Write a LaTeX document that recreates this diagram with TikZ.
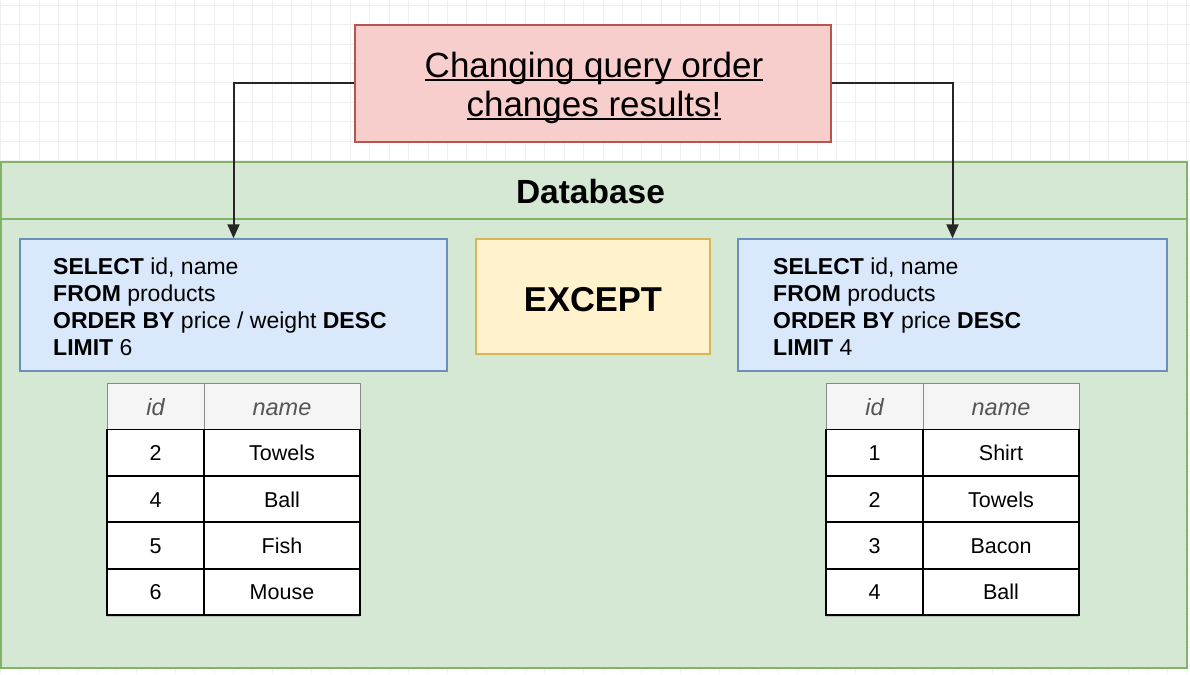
\documentclass[tikz,border=0pt]{standalone}
\usepackage{fontspec}
\setmainfont{Liberation Sans}
\usetikzlibrary{arrows.meta,shadows,calc}
\definecolor{gridc}{HTML}{EFEFEF}
\definecolor{dbfill}{HTML}{D5E8D4}
\definecolor{dbline}{HTML}{82B366}
\definecolor{redfill}{HTML}{F8CECC}
\definecolor{redline}{HTML}{B85450}
\definecolor{bluefill}{HTML}{DAE8FC}
\definecolor{blueline}{HTML}{6C8EBF}
\definecolor{yelfill}{HTML}{FFF2CC}
\definecolor{yelline}{HTML}{D6B656}
\definecolor{hdrfill}{HTML}{F5F5F5}
\definecolor{hdrline}{HTML}{8A8A8A}
\definecolor{hdrtext}{HTML}{555555}
\newcommand\myul[1]{\setbox0\hbox{#1}\rlap{\rule[-3pt]{\wd0}{1.6pt}}\box0}
\tikzset{
  dbbox/.style={draw=dbline, fill=dbfill, line width=1.5pt, inner sep=0pt},
  redbox/.style={draw=redline, fill=redfill, line width=1.5pt, inner sep=0pt},
  toptext/.style={anchor=base, inner sep=0pt, font=\fontsize{35}{40}\selectfont},
  qbox/.style={draw=blueline, fill=bluefill, line width=1.5pt, inner sep=0pt},
  ybox/.style={draw=yelline, fill=yelfill, line width=1.5pt, inner sep=0pt},
  bigbold/.style={anchor=base, inner sep=0pt, font=\bfseries\fontsize{34.5}{40}\selectfont},
  qline/.style={anchor=base west, inner sep=0pt, font=\fontsize{23}{27}\selectfont},
  arr/.style={draw=black!85, line width=2pt, -{Triangle[length=14pt,width=12pt]}},
  hcell/.style={draw=hdrline, fill=hdrfill, line width=1pt, inner sep=0pt,
    minimum height=46.4pt, text height=18pt, text depth=0pt,
    font=\itshape\fontsize{23.5}{26}\selectfont, text=hdrtext},
  bcell/.style={draw=black, fill=white, line width=1.8pt, inner sep=0pt,
    minimum height=46.4pt, text height=16pt, text depth=0pt,
    font=\fontsize{21.5}{24}\selectfont,
    drop shadow={shadow xshift=0pt, shadow yshift=-2pt, opacity=0.35}},
  idcol/.style={minimum width=97pt},
  namecol/.style={minimum width=156pt},
}
\begin{document}
\begin{tikzpicture}[x=1pt,y=-1pt]
\useasboundingbox (0,0) rectangle (1190,674);
% background grid
\foreach \i in {0,...,61} \draw[gridc, line width=0.8pt] ({\i*19.45},0) -- ({\i*19.45},674);
\foreach \j in {0,...,34} \draw[gridc, line width=0.8pt] (0,{5.05+\j*19.45}) -- (1190,{5.05+\j*19.45});

% database container
\node[dbbox, anchor=north west, minimum width=1186pt, minimum height=506pt] (db) at (0,161) {};
\draw[dbline, line width=1.5pt] ($(db.north west)+(0,58)$) -- ($(db.north east)+(0,58)$);
\node[bigbold, font=\bfseries\fontsize{33.5}{40}\selectfont] (dblabel) at (590.5,203) {Database};

% top note
\node[redbox, minimum width=476pt, minimum height=117pt] (top) at (593,83.5) {};
\node[toptext] (toptxt1) at (594,78) {\myul{Changing query order}};
\node[toptext] (toptxt2) at (594,117) {\myul{changes results!}};

% query boxes
\node[qbox, minimum width=427pt, minimum height=132pt] (q1) at (233.5,305) {};
\node[qbox, minimum width=429pt, minimum height=132pt] (q2) at (952.5,305) {};
\node[ybox, minimum width=234pt, minimum height=115pt] (exc) at (593,296.5) {};
\node[bigbold] (exctxt) at (593,311) {EXCEPT};

\node[qline] (q1a) at (53,274) {\textbf{SELECT} id, name};
\node[qline] (q1b) at (53,301) {\textbf{FROM} products};
\node[qline] (q1c) at (53,328) {\textbf{ORDER BY} price / weight \textbf{DESC}};
\node[qline] (q1d) at (53,355) {\textbf{LIMIT} 6};

\node[qline] (q2a) at (773,274) {\textbf{SELECT} id, name};
\node[qline] (q2b) at (773,301) {\textbf{FROM} products};
\node[qline] (q2c) at (773,328) {\textbf{ORDER BY} price \textbf{DESC}};
\node[qline] (q2d) at (773,355) {\textbf{LIMIT} 4};

% arrows
\draw[arr] (top.west) -| (q1.north);
\draw[arr] (top.east) -| (q2.north);

% left table
\node[hcell, idcol] (lh1) at (155.5,406.2) {id};
\node[hcell, namecol] (lh2) at (282,406.2) {name};
\foreach \r/\a/\b [count=\k] in {1/2/Towels,2/4/Ball,3/5/Fish,4/6/Mouse}{
  \node[bcell, idcol] (l\r a) at (155.5,{406.2+\k*46.4}) {\a};
  \node[bcell, namecol] (l\r b) at (282,{406.2+\k*46.4}) {\b};
}
% right table
\node[hcell, idcol] (rh1) at (874.5,406.2) {id};
\node[hcell, namecol] (rh2) at (1001,406.2) {name};
\foreach \r/\a/\b [count=\k] in {1/1/Shirt,2/2/Towels,3/3/Bacon,4/4/Ball}{
  \node[bcell, idcol] (r\r a) at (874.5,{406.2+\k*46.4}) {\a};
  \node[bcell, namecol] (r\r b) at (1001,{406.2+\k*46.4}) {\b};
}
\end{tikzpicture}
\end{document}
